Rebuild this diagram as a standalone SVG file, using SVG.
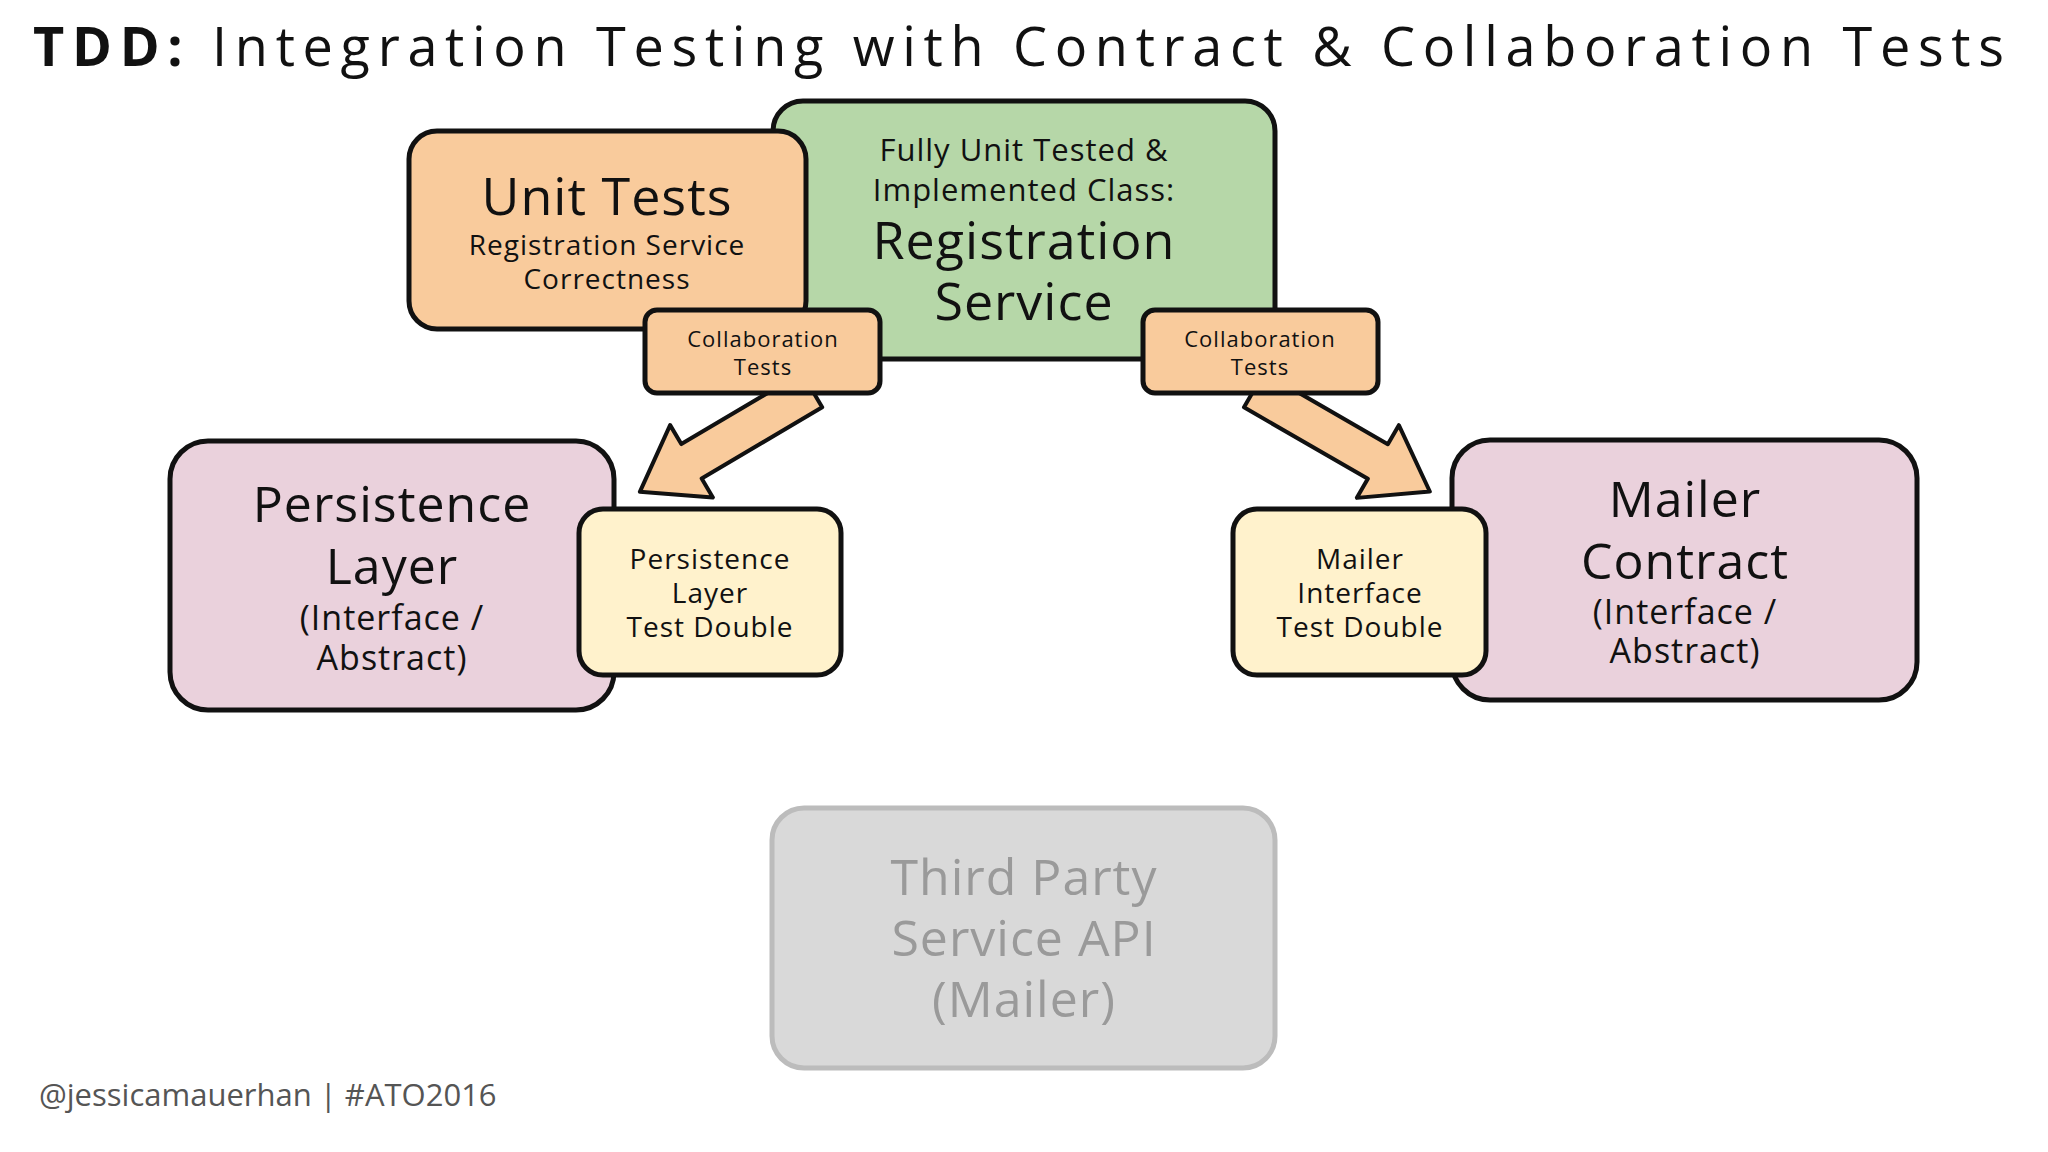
<svg xmlns="http://www.w3.org/2000/svg" width="2048" height="1152" viewBox="0 0 2048 1152">
<style>
text{font-family:"Open Sans","Liberation Sans",sans-serif;text-anchor:middle;fill:#111;letter-spacing:1px}
.b{stroke:#111;stroke-width:5}
.o{fill:#f9cb9c}.g{fill:#b6d7a8}.p{fill:#ead1dc}.y{fill:#fff2cc}
.arr{fill:#f9cb9c;stroke:#111;stroke-width:4;stroke-linejoin:round}
</style>
<rect width="2048" height="1152" fill="#fff"/>
<text x="33" y="66" textLength="1972" lengthAdjust="spacing" style="text-anchor:start;font-size:54px"><tspan font-weight="bold">TDD:</tspan> Integration Testing with Contract &amp; Collaboration Tests</text>
<g id="connectors">
<path class="arr" transform="translate(812,390) rotate(149.4)" d="M0,-20 L140,-20 L140,-42 L200,0 L140,42 L140,20 L0,20 Z"/>
<path class="arr" transform="translate(1254,390) rotate(30)" d="M0,-20 L143,-20 L143,-42 L203,0 L143,42 L143,20 L0,20 Z"/>
</g>
<g id="registration-service"><rect class="b g" x="773" y="101" width="502" height="258" rx="30"/>
<text x="1024" y="161" font-size="31">Fully Unit Tested &amp;</text>
<text x="1024" y="201" font-size="31">Implemented Class:</text>
<text x="1024" y="259" font-size="52">Registration</text>
<text x="1024" y="320" font-size="52">Service</text></g>
<g id="unit-tests"><rect class="b o" x="409" y="131" width="397" height="198" rx="28"/>
<text x="607" y="215" font-size="52">Unit Tests</text>
<text x="607" y="255" font-size="28">Registration Service</text>
<text x="607" y="289" font-size="28">Correctness</text></g>
<g id="collab-left"><rect class="b o" x="645" y="310" width="235" height="83" rx="12"/>
<text x="763" y="347" font-size="22">Collaboration</text><text x="763" y="375" font-size="22">Tests</text></g>
<g id="collab-right"><rect class="b o" x="1143" y="310" width="235" height="83" rx="12"/>
<text x="1260" y="347" font-size="22">Collaboration</text><text x="1260" y="375" font-size="22">Tests</text></g>
<g id="persistence"><rect class="b p" x="170" y="441" width="444" height="269" rx="38"/>
<text x="392" y="522" font-size="50">Persistence</text><text x="392" y="584" font-size="50">Layer</text>
<text x="392" y="630" font-size="34">(Interface /</text><text x="392" y="670" font-size="34">Abstract)</text></g>
<g id="persistence-double"><rect class="b y" x="579" y="509" width="262" height="166" rx="24"/>
<text x="710" y="569" font-size="28">Persistence</text><text x="710" y="603" font-size="28">Layer</text><text x="710" y="637" font-size="28">Test Double</text></g>
<g id="mailer"><rect class="b p" x="1452" y="440" width="465" height="260" rx="38"/>
<text x="1685" y="517" font-size="50">Mailer</text><text x="1685" y="579" font-size="50">Contract</text>
<text x="1685" y="624" font-size="34">(Interface /</text><text x="1685" y="663" font-size="34">Abstract)</text></g>
<g id="mailer-double"><rect class="b y" x="1233" y="509" width="253" height="166" rx="24"/>
<text x="1360" y="569" font-size="28">Mailer</text><text x="1360" y="603" font-size="28">Interface</text><text x="1360" y="637" font-size="28">Test Double</text></g>
<g id="third-party"><rect x="772" y="808" width="503" height="260" rx="32" fill="#d9d9d9" stroke="#bcbcbc" stroke-width="5"/>
<text x="1024" y="895" font-size="50" style="fill:#9a9a9a">Third Party</text>
<text x="1024" y="956" font-size="50" style="fill:#9a9a9a">Service API</text>
<text x="1024" y="1017" font-size="50" style="fill:#9a9a9a">(Mailer)</text></g>
<text x="39" y="1106" font-size="31" style="text-anchor:start;fill:#555;letter-spacing:0">@jessicamauerhan | #ATO2016</text>
</svg>
